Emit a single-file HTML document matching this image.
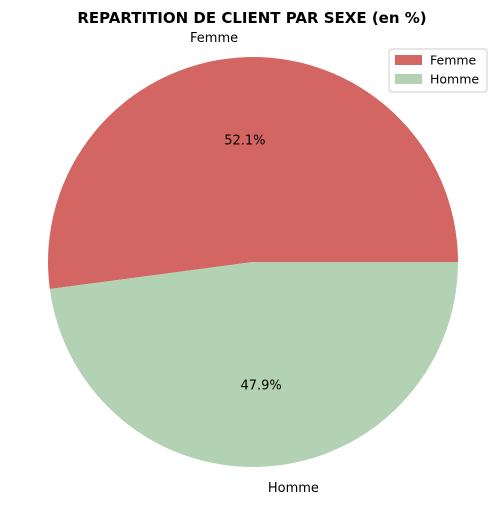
<!DOCTYPE html>
<html><head><meta charset="utf-8"><style>
html,body{margin:0;padding:0;background:#fff;}
svg text{font-family:"DejaVu Sans","Liberation Sans",sans-serif;}
</style></head><body>
<svg id="chart" width="504" height="504" viewBox="0 0 504 504">
<text x="252" y="23" text-anchor="middle" font-size="15" font-weight="bold">REPARTITION DE CLIENT PAR SEXE (en %)</text>
<g id="slices"></g>
<g>
<rect x="389" y="49" width="98" height="43" rx="3" fill="#fff" stroke="#ccc"/>
<g id="legend-items"></g>
</g>
</svg>
<script>
const categories = ["Femme", "Homme"];
const values = [52.1, 47.9];
const colors = ["#d36663", "#b3d2b3"];
const cx = 253, cy = 262, r = 205;
const ns = "http://www.w3.org/2000/svg";
const svg = document.getElementById("chart");
const g = document.getElementById("slices");
const total = values.reduce((a, b) => a + b, 0);
let start = 0;
function pt(a, rr) { return [cx + rr * Math.cos(a), cy - rr * Math.sin(a)]; }
values.forEach((v, i) => {
  const sweep = v / total * 2 * Math.PI;
  const end = start + sweep;
  const [x1, y1] = pt(start, r), [x2, y2] = pt(end, r);
  const large = sweep > Math.PI ? 1 : 0;
  const p = document.createElementNS(ns, "path");
  p.setAttribute("d", `M${cx},${cy} L${x1},${y1} A${r},${r} 0 ${large} 0 ${x2},${y2} Z`);
  p.setAttribute("fill", colors[i]);
  
  
  g.appendChild(p);
  const mid = start + sweep / 2;
  const [lx, ly] = pt(mid, r * 1.1);
  const t = document.createElementNS(ns, "text");
  t.setAttribute("x", lx); t.setAttribute("y", ly + 5);
  t.setAttribute("font-size", "13");
  t.setAttribute("text-anchor", Math.cos(mid) < 0 ? "end" : "start");
  t.textContent = categories[i];
  
  
  svg.appendChild(t);
  const [px, py] = pt(mid, r * 0.6);
  const t2 = document.createElementNS(ns, "text");
  t2.setAttribute("x", px); t2.setAttribute("y", py + 5);
  t2.setAttribute("font-size", "13");
  t2.setAttribute("text-anchor", "middle");
  t2.textContent = v.toFixed(1) + "%";
  
  
  svg.appendChild(t2);
  start = end;
});
const lg = document.getElementById("legend-items");
categories.forEach((c, i) => {
  const y = 55 + i * 19;
  const rc = document.createElementNS(ns, "rect");
  rc.setAttribute("x", 395); rc.setAttribute("y", y); rc.setAttribute("width", 27); rc.setAttribute("height", 10);
  rc.setAttribute("fill", colors[i]);
  
  
  lg.appendChild(rc);
  const t = document.createElementNS(ns, "text");
  t.setAttribute("x", 430); t.setAttribute("y", y + 9.5);
  t.setAttribute("font-size", "12.5");
  t.textContent = c;
  
  
  lg.appendChild(t);
});
</script>
</body></html>
